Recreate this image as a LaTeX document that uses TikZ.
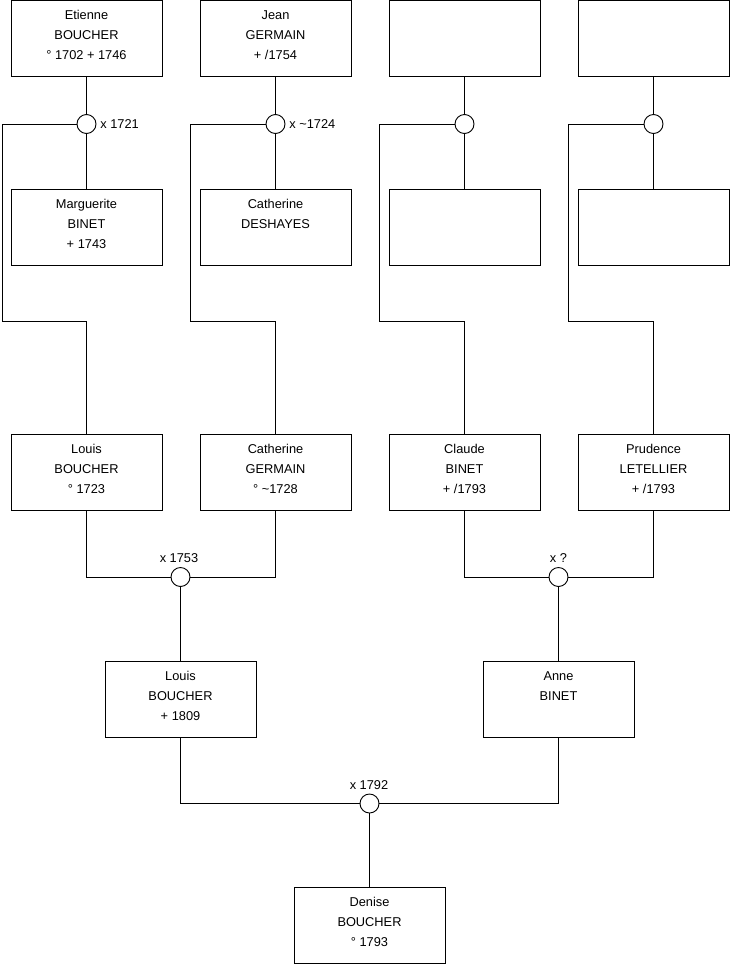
\documentclass[tikz,border=0pt]{standalone}
\usepackage{fontspec}
\setmainfont{Liberation Sans}
\begin{document}
\begin{tikzpicture}[x=1pt,y=-1pt, line width=0.9pt,
 pbox/.style={draw, minimum width=151pt, minimum height=76pt, inner sep=0},
 ptext/.style={anchor=north, inner sep=0, align=center, font=\fontsize{12.8}{20}\selectfont, yshift=-9pt},
 wed/.style={draw, circle, fill=white, minimum size=19pt, inner sep=0},
 wlab/.style={inner sep=0, font=\fontsize{12.8}{14}\selectfont}]
\useasboundingbox (0,0) rectangle (740,975);
\newcommand\pers[3]{\node[pbox] (#1) at (#2) {};\node[ptext] at (#1.north) {\rule{0pt}{10pt}#3};}
% row 1
\pers{a1}{86.5,38.5}{Etienne\\BOUCHER\\° 1702 + 1746}
\pers{a2}{275.5,38.5}{Jean\\GERMAIN\\+ /1754}
\node[pbox] (a3) at (464.5,38.5) {};
\node[pbox] (a4) at (653.5,38.5) {};
% row 2
\pers{b1}{86.5,227}{Marguerite\\BINET\\+ 1743}
\pers{b2}{275.5,227}{Catherine\\DESHAYES}
\node[pbox] (b3) at (464.5,227) {};
\node[pbox] (b4) at (653.5,227) {};
% row 3
\pers{p1}{86.5,472}{Louis\\BOUCHER\\° 1723}
\pers{p2}{275.5,472}{Catherine\\GERMAIN\\° \textasciitilde1728}
\pers{p3}{464.5,472}{Claude\\BINET\\+ /1793}
\pers{p4}{653.5,472}{Prudence\\LETELLIER\\+ /1793}
% row 4
\pers{q1}{180.5,699}{Louis\\BOUCHER\\+ 1809}
\pers{q2}{558.5,699}{Anne\\BINET}
% bottom
\pers{d}{369.5,925}{Denise\\BOUCHER\\° 1793}
% marriage circles
\node[wed] (c1) at (86.5,124) {};
\node[wed] (c2) at (275.5,124) {};
\node[wed] (c3) at (464.5,124) {};
\node[wed] (c4) at (653.5,124) {};
\node[wed] (c5) at (180.5,577) {};
\node[wed] (c6) at (558.5,577) {};
\node[wed] (c7) at (369.5,803.5) {};
% corner coordinates
\coordinate (k1) at (2,321);
\coordinate (k2) at (190.5,321);
\coordinate (k3) at (379.5,321);
\coordinate (k4) at (568.5,321);
% connectors row 1-2-3
\draw (a1.south) -- (c1.north); \draw (c1.south) -- (b1.north); \draw (c1.west) -| (k1) -| (p1.north);
\draw (a2.south) -- (c2.north); \draw (c2.south) -- (b2.north); \draw (c2.west) -| (k2) -| (p2.north);
\draw (a3.south) -- (c3.north); \draw (c3.south) -- (b3.north); \draw (c3.west) -| (k3) -| (p3.north);
\draw (a4.south) -- (c4.north); \draw (c4.south) -- (b4.north); \draw (c4.west) -| (k4) -| (p4.north);
% couples
\draw (p1.south) |- (c5.west); \draw (p2.south) |- (c5.east); \draw (c5.south) -- (q1.north);
\draw (p3.south) |- (c6.west); \draw (p4.south) |- (c6.east); \draw (c6.south) -- (q2.north);
\draw (q1.south) |- (c7.west); \draw (q2.south) |- (c7.east); \draw (c7.south) -- (d.north);
% labels
\node[wlab, anchor=base west] (l1) at ([xshift=3.5pt,yshift=-4pt]c1.east) {x 1721};
\node[wlab, anchor=base west] (l2) at ([xshift=3.5pt,yshift=-4pt]c2.east) {x \textasciitilde1724};
\node[wlab, anchor=base] (l5) at ([xshift=-1.5pt,yshift=4.5pt]c5.north) {x 1753};
\node[wlab, anchor=base] (l6) at ([yshift=4.5pt]c6.north) {x ?};
\node[wlab, anchor=base] (l7) at ([xshift=-0.5pt,yshift=4.5pt]c7.north) {x 1792};
\end{tikzpicture}
\end{document}
